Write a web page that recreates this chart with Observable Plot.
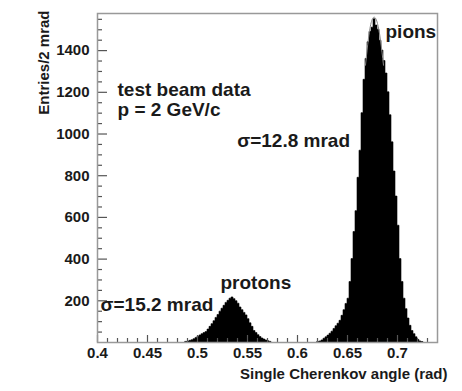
<!DOCTYPE html>
<html>
<head>
<meta charset="utf-8">
<script src="https://cdn.jsdelivr.net/npm/d3@7"></script>
<script src="https://cdn.jsdelivr.net/npm/@observablehq/plot@0.6"></script>
<style>
  html, body { margin: 0; padding: 0; background: #fff; }
  #chart svg { display: block; }
</style>
</head>
<body>
<div id="chart"></div>
<script>
// Histogram binning (2 mrad bins)
const binWidth = 0.002;

// Proton peak: first bin low edge and counts per bin
const protonFirstEdge = 0.488;
const protonCounts = [3,5,8,11,16,22,28,34,40,45,50,62,75,88,102,118,132,148,162,176,190,200,210,216,208,198,186,168,155,142,130,112,92,75,55,45,35,26,19,14,9,6,3];

// Pion peak: first bin low edge and counts per bin
const pionFirstEdge = 0.620;
const pionCounts = [3,5,10,18,25,33,42,52,65,78,90,104,128,155,185,210,290,400,530,630,790,920,1100,1260,1360,1440,1490,1510,1550,1520,1500,1447,1400,1350,1290,1200,1090,960,820,700,560,400,290,210,160,115,80,55,40,25,12,5,2];

// Fitted curve near the pion peak
const fitX = [0.668,0.671,0.674,0.677,0.680,0.683,0.686];
const fitY = [1330,1460,1540,1560,1530,1450,1330];

// Axis ticks
const xLabels = [0.4,0.45,0.5,0.55,0.6,0.65,0.7];
const xMinor = [0.41,0.42,0.43,0.44,0.46,0.47,0.48,0.49,0.51,0.52,0.53,0.54,0.56,0.57,0.58,0.59,0.61,0.62,0.63,0.64,0.66,0.67,0.68,0.69,0.71,0.72,0.73];
const yLabels = [200,400,600,800,1000,1200,1400];
const yMinor = [50,100,150,250,300,350,450,500,550,650,700,750,850,900,950,1050,1100,1150,1250,1300,1350,1450,1500,1550];

// Annotations
const annText = ["test beam data","p = 2 GeV/c","σ=12.8 mrad","σ=15.2 mrad","protons","pions"];
const annX = [0.420,0.420,0.5397,0.403,0.523,0.688];
const annY = [1184,1088,939,152,255,1462];

// Step outline of each peak: one point per bin low edge, closed at the last high edge
function steps(first, counts, peak) {
  const pts = counts.map((c, i) => ({x: first + i*binWidth, y: c, peak}));
  pts.push({x: first + counts.length*binWidth, y: 0, peak});
  return pts;
}
const histo = steps(protonFirstEdge, protonCounts, "p").concat(steps(pionFirstEdge, pionCounts, "pi"));
const fit = fitX.map((x, i) => ({x, y: fitY[i]}));
const ann = annText.map((t, i) => ({t, x: annX[i], y: annY[i]}));

const W = 462, H = 391, mL = 97, mR = 25, mT = 13, mB = 49;
const fw = W - mL - mR, fh = H - mT - mB;
const ink = "#1a1a1a", tickColor = "#555";

const chart = Plot.plot({
  width: W, height: H,
  marginLeft: mL, marginRight: mR, marginTop: mT, marginBottom: mB,
  style: {fontFamily: "'Liberation Sans', Arial, Helvetica, sans-serif", fontWeight: "bold", fontSize: "15px", color: ink, background: "#fff"},
  x: {domain: [0.4, 0.74]},
  y: {domain: [0, 1578]},
  marks: [
    Plot.areaY(histo, {x: "x", y: "y", z: "peak", curve: "step-after", fill: "black", stroke: "black", strokeWidth: 0.6}),
    Plot.line(fit, {x: "x", y: "y", stroke: "#888", strokeWidth: 1, curve: "natural"}),
    // inward ticks
    Plot.ruleX(xLabels, {x: d => d, insetTop: fh - 7, stroke: tickColor, strokeWidth: 1.2}),
    Plot.ruleX(xMinor, {x: d => d, insetTop: fh - 4, stroke: tickColor, strokeWidth: 1.2}),
    Plot.ruleY(yLabels, {y: d => d, insetRight: fw - 10, stroke: tickColor, strokeWidth: 1.2}),
    Plot.ruleY(yMinor, {y: d => d, insetRight: fw - 5, stroke: tickColor, strokeWidth: 1.2}),
    Plot.frame({stroke: "#999", strokeWidth: 1.5}),
    Plot.axisX({ticks: xLabels, tickSize: 0, tickPadding: 5, tickFormat: d => String(d), label: null, fill: ink, fontSize: 15}),
    Plot.axisY({ticks: yLabels, tickSize: 0, tickPadding: 8, tickFormat: d => String(d), label: null, fill: ink, fontSize: 15}),
    Plot.text(["Single Cherenkov angle (rad)"], {frameAnchor: "bottom-right", textAnchor: "end", dx: 10, dy: 36, fill: ink, fontSize: 15}),
    Plot.text(["Entries/2 mrad"], {frameAnchor: "top-left", rotate: -90, textAnchor: "end", dx: -59, dy: -3, fill: ink, fontSize: 15}),
    Plot.text(ann, {x: "x", y: "y", text: "t", textAnchor: "start", lineAnchor: "bottom", fill: ink, fontSize: 19})
  ]
});
document.getElementById("chart").appendChild(chart);
</script>
</body>
</html>
